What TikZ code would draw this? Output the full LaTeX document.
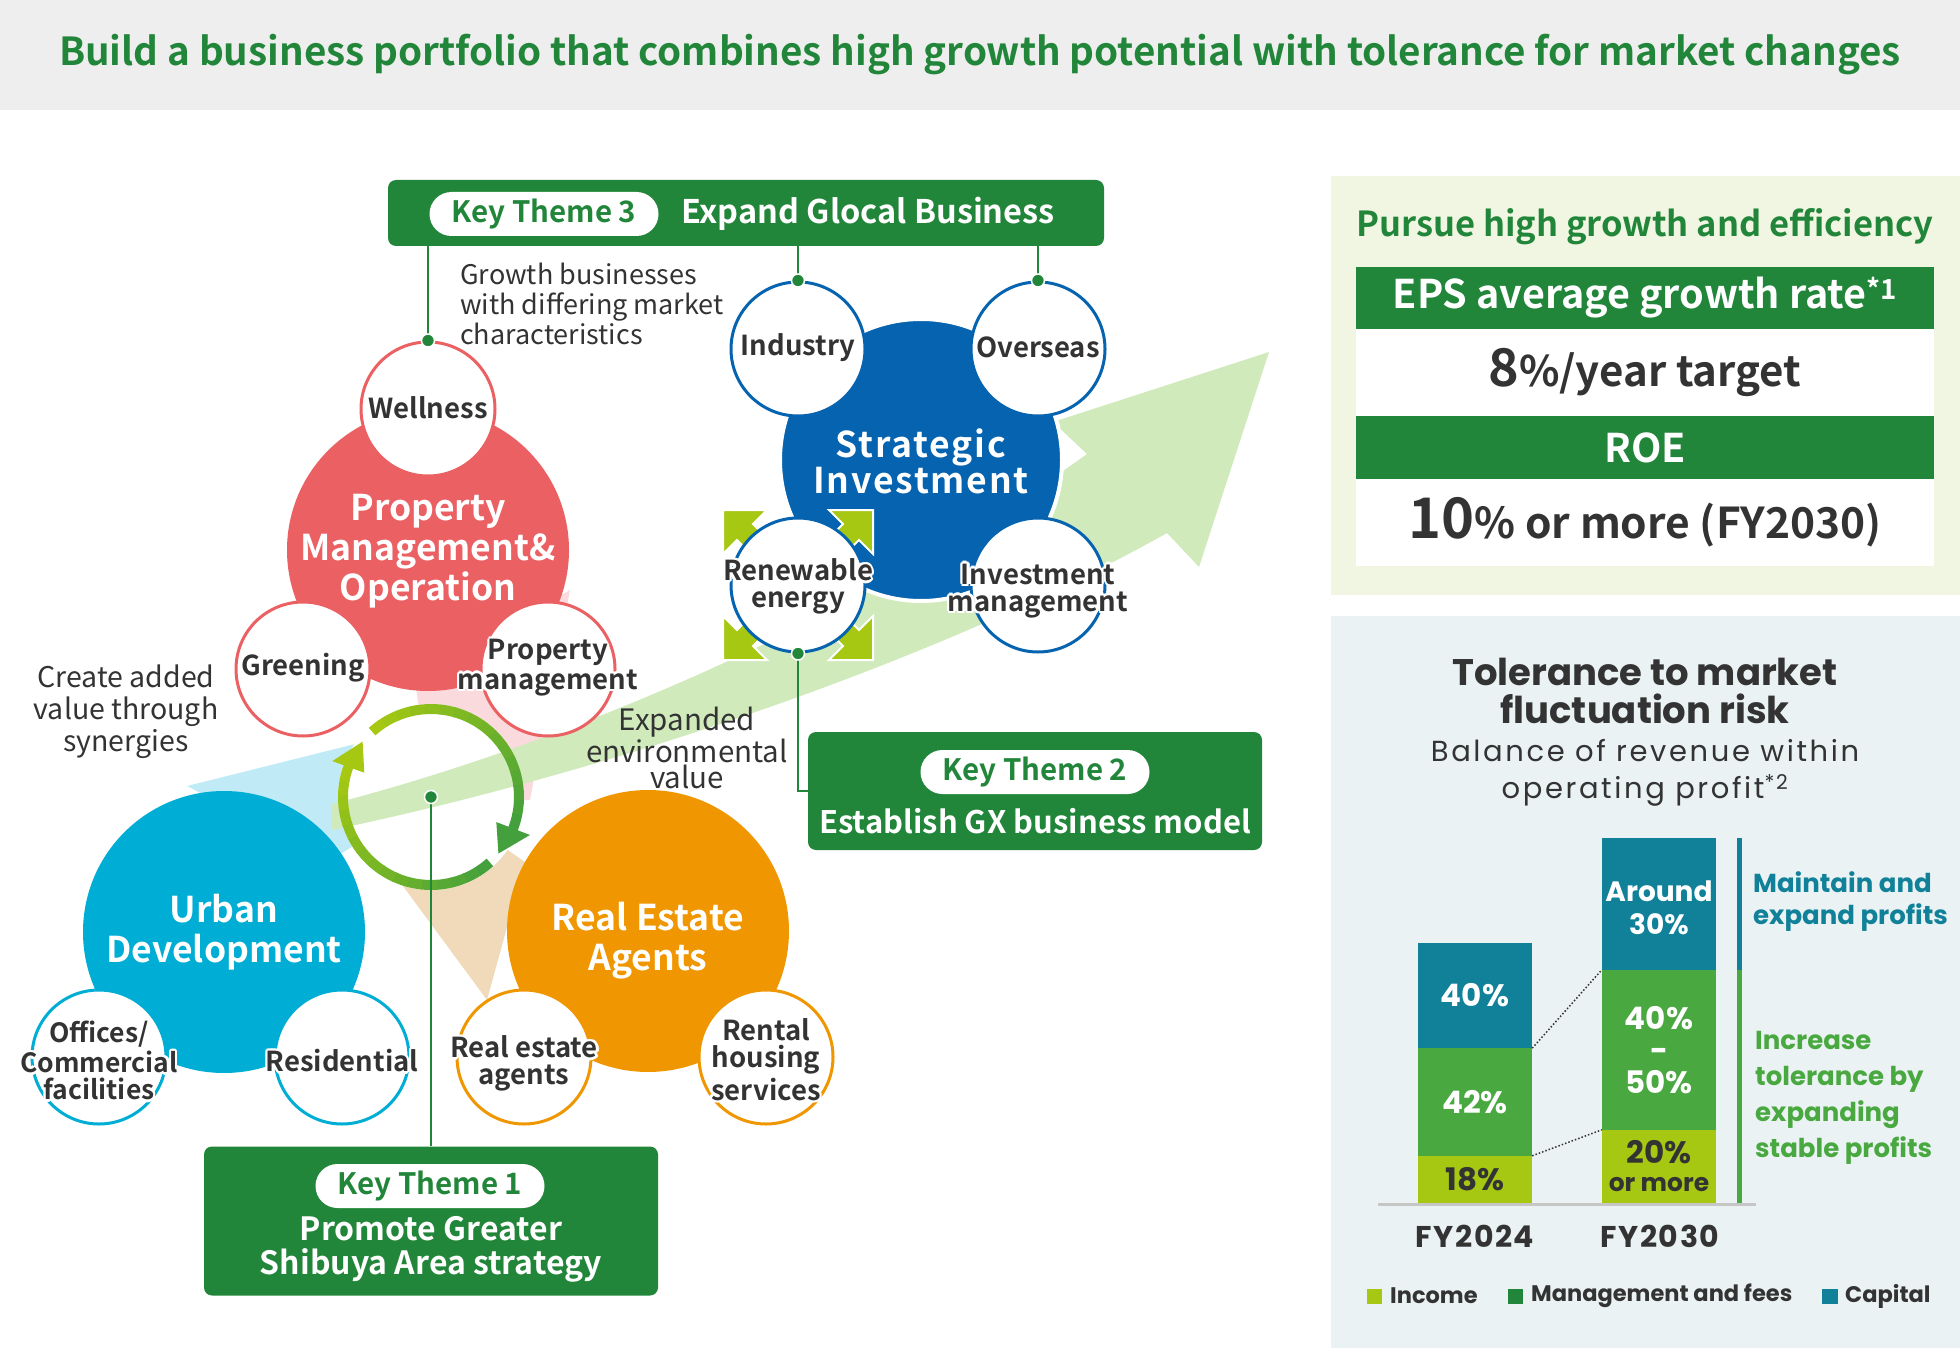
\documentclass[tikz,border=0pt]{standalone}
\usepackage{fontspec}
\setmainfont{Noto Sans CJK JP}[BoldFont={* Bold}]
\newfontfamily\popfont{Poppins}
\newfontfamily\popwide[LetterSpace=9]{Poppins}
\newfontfamily\popfy[LetterSpace=5]{Poppins}
\newfontfamily\widefont[LetterSpace=5,BoldFont={* Bold}]{Noto Sans CJK JP}
\usepackage{contour}
\contourlength{2.5pt}
\contournumber{10}
\usetikzlibrary{positioning,calc}

\definecolor{kgreen}{RGB}{34,134,58}
\definecolor{hdrgray}{RGB}{238,238,238}
\definecolor{txtgray}{RGB}{51,51,51}
\definecolor{pmred}{RGB}{234,96,99}
\definecolor{pmpink}{RGB}{250,218,221}
\definecolor{sblue}{RGB}{5,99,175}
\definecolor{ucyan}{RGB}{0,173,212}
\definecolor{ucyanlt}{RGB}{192,234,246}
\definecolor{reorange}{RGB}{240,150,0}
\definecolor{rebeige}{RGB}{240,218,186}
\definecolor{arrowlt}{RGB}{208,234,188}
\definecolor{limeg}{RGB}{166,200,18}
\definecolor{ringgreen}{RGB}{67,160,60}
\definecolor{mgreen}{RGB}{73,168,64}
\definecolor{capteal}{RGB}{16,129,153}
\definecolor{panelA}{RGB}{241,246,226}
\definecolor{panelB}{RGB}{234,242,243}

\newcommand\hl[1]{\contour{white}{#1}}

\begin{document}
\begin{tikzpicture}[x=1pt,y=-1pt,
  bigc/.style={circle, minimum size=282pt, inner sep=0pt},
  bigtext/.style={text=white, font=\bfseries\fontsize{35.5}{40}\selectfont, align=center, inner sep=0pt},
  smallc/.style={circle, draw, line width=3pt, fill=white, minimum size=134pt, inner sep=0pt},
  lbl/.style={text=txtgray, font=\bfseries\fontsize{27.5}{27}\selectfont, align=center, inner sep=0pt},
  ktbox/.style={rectangle, rounded corners=8pt, fill=kgreen, inner sep=0pt},
  pill/.style={rectangle, rounded corners=22pt, fill=white, text=kgreen, font=\bfseries\fontsize{29.5}{32}\selectfont, minimum width=229pt, minimum height=44pt, inner sep=0pt},
  kttext/.style={text=white, font=\bfseries\fontsize{31}{34}\selectfont, align=center, inner sep=0pt},
  note/.style={text=txtgray, font=\fontsize{27}{30}\selectfont, align=center, inner sep=0pt},
  conn/.style={draw=kgreen, line width=2pt},
  dot/.style={circle, fill=kgreen, draw=white, line width=1.5pt, minimum size=13pt, inner sep=0pt},
  band/.style={rectangle, minimum width=578pt, inner sep=0pt, font=\bfseries\fontsize{39.5}{42}\selectfont},
  bar/.style={rectangle, inner sep=0pt, minimum width=114pt},
  barlbl/.style={font=\popfont\bfseries\fontsize{31}{32}\selectfont, text=white, align=center, inner sep=0pt},
  legend/.style={anchor=west, font=\popfont\bfseries\fontsize{22.5}{24}\selectfont, text=txtgray, inner sep=0pt},
]
\useasboundingbox (0,0) rectangle (1960,1348);

% header
\fill[hdrgray] (0,0) rectangle (1960,110);
\node[font=\bfseries\fontsize{38.6}{42}\selectfont, text=kgreen] (head) at (980,55)
  {Build a business portfolio that combines high growth potential with tolerance for market changes};

% panels on the right
\fill[panelA] (1331,176) rectangle (1960,595);
\fill[panelB] (1331,616) rectangle (1960,1348);

% synergy wedges
\coordinate (cyc) at (431,797);
\fill[pmpink] (415,680) -- (570,590) -- (530,800) -- (cyc) -- cycle;
\fill[ucyanlt] (187,786) -- (363,742) -- (cyc) -- (331,860) -- cycle;
\fill[rebeige] (cyc) -- (400,882) -- (487,1000) -- (525,862) -- cycle;
\fill[white] (cyc) circle [radius=93];

% growth arrow
\fill[arrowlt] (332,804) .. controls (560,745) and (850,625) .. (1087,454) -- (1053,422)
  -- (1269,352) -- (1199,567) -- (1167,533) .. controls (950,655) and (620,770) .. (332,830) -- cycle;

% cycle ring
\foreach \i in {0,...,15}{
  \pgfmathsetmacro\sa{-132+\i*9.5625}
  \pgfmathsetmacro\ea{\sa+10.2}
  \pgfmathtruncatemacro\pc{\i*100/15}
  \draw[line width=10pt, color=ringgreen!\pc!limeg] ($(cyc)+(\sa:88)$) arc[start angle=\sa, end angle=\ea, radius=88];
}
\foreach \i in {0,...,15}{
  \pgfmathsetmacro\sa{48+\i*9.5}
  \pgfmathsetmacro\ea{\sa+10.1}
  \pgfmathtruncatemacro\pc{100-\i*100/15}
  \draw[line width=10pt, color=ringgreen!\pc!limeg] ($(cyc)+(\sa:88)$) arc[start angle=\sa, end angle=\ea, radius=88];
}
\fill[ringgreen] ($(cyc)+(21:70)$) -- ($(cyc)+(21:106)$) -- ($(cyc)+(40:88)$) -- cycle;
\fill[limeg] ($(cyc)+(200:71)$) -- ($(cyc)+(200:105)$) -- ($(cyc)+(219:88)$) -- cycle;

% business circles
\node[bigc, fill=ucyan] (ud) at (224,932) {};
\node[bigc, fill=reorange] (rea) at (648,931) {};
\node[bigc, fill=pmred] (pmo) at (428,550) {};
\node[bigc, fill=sblue, draw=white, line width=4pt] (sti) at (921,460) {};

\foreach \sx/\sy/\fx/\fy in {-1/-1/1/1, 1/-1/-1/1, -1/1/1/-1, 1/1/-1/-1}{
  \begin{scope}[shift={({798+75*\sx},{585+75*\sy})}, xscale=\fx, yscale=\fy]
    \filldraw[fill=limeg, draw=white, line width=2pt] (0,0) -- (44,0) -- (30,14) -- (64,48)
      -- (48,64) -- (14,30) -- (0,44) -- cycle;
  \end{scope}
}

\node[smallc, draw=pmred] (well) at (428,409) {};
\node[smallc, draw=pmred] (grn) at (303,669) {};
\node[smallc, draw=pmred] (pmg) at (548,669) {};
\node[smallc, draw=sblue] (ind) at (798,349) {};
\node[smallc, draw=sblue] (ovs) at (1038,349) {};
\node[smallc, draw=sblue] (ren) at (798,585) {};
\node[smallc, draw=sblue] (invm) at (1038,585) {};
\node[smallc, draw=ucyan] (off) at (99,1057) {};
\node[smallc, draw=ucyan] (res) at (342,1057) {};
\node[smallc, draw=reorange] (reag) at (524,1057) {};
\node[smallc, draw=reorange] (rent) at (766,1057) {};

\node[bigtext] (pmot) at (428,551) {Property\\Management\&\\Operation};
\node[bigtext, font=\widefont\bfseries\fontsize{35.5}{36}\selectfont] (stit) at (921,461) {Strategic\\Investment};
\node[bigtext] (udt) at (224,932) {Urban\\Development};
\node[bigtext] (reat) at (648,941) {Real Estate\\Agents};

\node[lbl] (welll) at (well) {\hl{Wellness}};
\node[lbl] (grnl) at (grn) {\hl{Greening}};
\node[lbl] (pmgl) at (pmg) {\hl{Property}\\\hl{management}};
\node[lbl] (indl) at (ind) {\hl{Industry}};
\node[lbl] (ovsl) at (ovs) {\hl{Overseas}};
\node[lbl] (renl) at ([yshift=-3pt]ren) {\hl{Renewable}\\\hl{energy}};
\node[lbl] (invl) at ([yshift=-7pt]invm) {\hl{Investment}\\\hl{management}};
\node[lbl, font=\bfseries\fontsize{26.5}{27}\selectfont] (offl) at ([yshift=-5pt]off) {\hl{Offices/}\\\hl{Commercial}\\\hl{facilities}};
\node[lbl] (resl) at ([yshift=-5pt]res) {\hl{Residential}};
\node[lbl] (real) at ([yshift=-8pt]reag) {\hl{Real estate}\\\hl{agents}};
\node[lbl] (rentl) at ([yshift=-4pt]rent) {\hl{Rental}\\\hl{housing}\\\hl{services}};

% notes
\node[note, anchor=west, align=left] (grow) at (460,304) {Growth businesses\\with differing market\\characteristics};
\node[note, font=\fontsize{28.5}{32}\selectfont] (syn) at (126,712) {Create added\\value through\\synergies};
\node[note, font=\fontsize{29.5}{26}\selectfont] (env) at (687,748) {Expanded\\environmental\\value};

% key themes
\node[ktbox, minimum width=716pt, minimum height=66pt] (kt3) at (746,213) {};
\node[pill] (kt3p) at (544,214) {Key Theme 3};
\node[kttext, font=\bfseries\fontsize{32.5}{34}\selectfont] (kt3t) at (868,214) {Expand Glocal Business};

\node[ktbox, minimum width=454pt, minimum height=118pt] (kt2) at (1035,791) {};
\node[pill] (kt2p) at (1035,772) {Key Theme 2};
\node[kttext] (kt2t) at (1035,821) {Establish GX business model};

\node[ktbox, minimum width=454pt, minimum height=149pt] (kt1) at (431,1221) {};
\node[pill] (kt1p) at (430,1186) {Key Theme 1};
\node[kttext, font=\bfseries\fontsize{32}{34}\selectfont] (kt1t) at (431,1249) {Promote Greater\\Shibuya Area strategy};

% connectors
\draw[conn] (kt3.south -| well.north) -- (well.north);
\draw[conn] (kt3.south -| ind.north) -- (ind.north);
\draw[conn] (kt3.south -| ovs.north) -- (ovs.north);
\draw[conn] (ren.south) |- (kt2.west);
\draw[conn] (cyc) -- (cyc |- kt1.north);
\node[dot] (d1) at (well.north) {};
\node[dot] (d2) at (ind.north) {};
\node[dot] (d3) at (ovs.north) {};
\node[dot] (d4) at (ren.south) {};
\node[dot] (d5) at (cyc) {};

% growth and efficiency
\node[font=\bfseries\fontsize{34.5}{38}\selectfont, text=kgreen] (pur) at (1645,227) {Pursue high growth and efficiency};
\node[band, fill=kgreen, minimum height=62pt, text=white] (eps) at (1645,298) {EPS average growth rate\textsuperscript{*1}};
\node[band, fill=white, minimum height=87pt, text=txtgray, font=\bfseries\fontsize{42}{44}\selectfont] (epsv) at (1645,372.5) {{\fontsize{52}{52}\selectfont 8}\%/year target};
\node[band, fill=kgreen, minimum height=63pt, text=white] (roe) at (1645,447.5) {ROE};
\node[band, fill=white, minimum height=87pt, text=txtgray, font=\bfseries\fontsize{42.5}{46}\selectfont] (roev) at (1645,522.5) {{\fontsize{56}{58}\selectfont 10}\% or more (FY2030)};

% tolerance chart
\node[font=\popfont\bfseries\fontsize{37}{38}\selectfont, text=txtgray, align=center] (tol) at (1645,691) {Tolerance to market\\fluctuation risk};
\node[font=\popwide\fontsize{29}{37}\selectfont, text=txtgray, align=center] (bal) at (1645,773) {Balance of revenue within\\operating profit\textsuperscript{*2}};

\node[bar, fill=capteal, minimum height=105pt] (c24) at (1475,995.5) {};
\node[bar, fill=mgreen, minimum height=108pt] (m24) at (1475,1102) {};
\node[bar, fill=limeg, minimum height=47pt] (i24) at (1475,1179.5) {};
\node[bar, fill=capteal, minimum height=132pt] (c30) at (1659,904) {};
\node[bar, fill=mgreen, minimum height=160pt] (m30) at (1659,1050) {};
\node[bar, fill=limeg, minimum height=73pt] (i30) at (1659,1166.5) {};
\draw[txtgray, dotted, line width=1.5pt] (c24.south east) -- (m30.north west);
\draw[txtgray, dotted, line width=1.5pt] (i24.north east) -- (i30.north west);
\draw[gray!45, line width=3pt] (1378,1204) -- (1756,1204);
\fill[capteal] (1737,838) rectangle (1742,970);
\fill[mgreen] (1737,970) rectangle (1742,1203);

\node[barlbl] (c24l) at (c24) {40\%};
\node[barlbl] (m24l) at (m24) {42\%};
\node[barlbl, text=txtgray] (i24l) at (i24) {18\%};
\node[barlbl, font=\popfont\bfseries\fontsize{28}{33}\selectfont] (c30l) at ([yshift=-4pt]c30) {Around\\30\%};
\node[barlbl] (m30l) at (m30) {40\%\\-\\50\%};
\node[barlbl, text=txtgray, font=\popfont\bfseries\fontsize{31}{28}\selectfont] (i30l) at (i30) {20\%\\{\fontsize{25}{28}\selectfont or more}};

\node[font=\popfy\bfseries\fontsize{30}{30}\selectfont, text=txtgray] (fy24) at (1475,1236) {FY2024};
\node[font=\popfy\bfseries\fontsize{30}{30}\selectfont, text=txtgray] (fy30) at (1660,1236) {FY2030};

\node[anchor=west, align=left, inner sep=0pt, text=capteal, font=\popfont\bfseries\fontsize{26}{32}\selectfont] (maint) at (1753,902) {Maintain and\\expand profits};
\node[anchor=west, align=left, inner sep=0pt, text=mgreen, font=\popfont\bfseries\fontsize{26}{36}\selectfont] (incr) at (1755,1098) {Increase\\tolerance by\\expanding\\stable profits};

\fill[limeg] (1367,1289) rectangle (1382,1304);
\node[legend] (lg1) at (1390,1296) {Income};
\fill[kgreen] (1508,1289) rectangle (1523,1304);
\node[legend] (lg2) at (1531,1296) {Management and fees};
\fill[capteal] (1822,1289) rectangle (1838,1304);
\node[legend] (lg3) at (1845,1296) {Capital};
\end{tikzpicture}
\end{document}
